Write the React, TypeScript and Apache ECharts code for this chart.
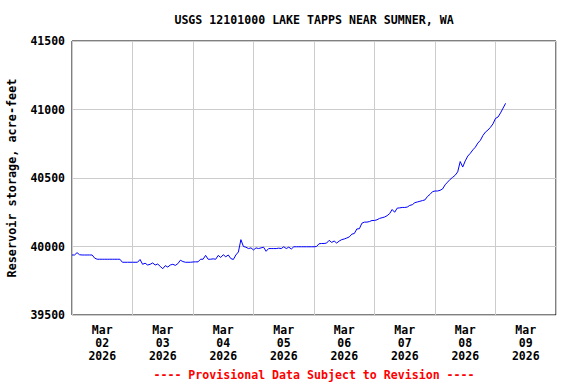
import React, { useEffect, useRef } from "react";
import * as echarts from "echarts";

const title = "USGS 12101000 LAKE TAPPS NEAR SUMNER, WA";
const yAxisTitle = "Reservoir storage, acre-feet";
const footer = "---- Provisional Data Subject to Revision ----";
const dayLabels = ["Mar\n02\n2026", "Mar\n03\n2026", "Mar\n04\n2026", "Mar\n05\n2026", "Mar\n06\n2026", "Mar\n07\n2026", "Mar\n08\n2026", "Mar\n09\n2026"];

// hourly storage starting Mar 02 2026 00:00
const storage = [
  39938, 39938, 39955, 39940, 39938, 39938, 39938, 39938, 39938, 39915, 39907, 39907, 39907, 39907, 39907, 39907, 39907, 39907, 39907, 39907, 39885, 39885, 39885, 39885,
  39885, 39885, 39885, 39905, 39870, 39878, 39865, 39870, 39880, 39865, 39872, 39855, 39838, 39860, 39850, 39865, 39870, 39862, 39875, 39900, 39890, 39885, 39885, 39885,
  39887, 39888, 39888, 39907, 39907, 39935, 39907, 39907, 39910, 39907, 39935, 39920, 39940, 39925, 39938, 39912, 39905, 39938, 39960, 40050, 40000, 39995, 39985, 39990,
  39975, 39990, 39985, 39990, 39995, 39965, 39985, 39985, 39985, 39985, 39988, 39985, 39998, 39985, 39995, 39982, 39998, 39998, 39998, 39998, 39998, 39998, 39998, 39998,
  39998, 40000, 40020, 40022, 40022, 40025, 40045, 40030, 40040, 40025, 40040, 40050, 40055, 40062, 40070, 40090, 40095, 40128, 40130, 40170, 40178, 40178, 40182, 40190,
  40190, 40195, 40205, 40210, 40215, 40225, 40240, 40270, 40250, 40280, 40282, 40285, 40285, 40288, 40300, 40305, 40320, 40325, 40330, 40335, 40340, 40365, 40380, 40400,
  40405, 40405, 40410, 40420, 40450, 40470, 40490, 40505, 40520, 40545, 40620, 40580, 40625, 40660, 40680, 40705, 40725, 40755, 40775, 40810, 40835, 40850, 40870, 40895,
  40935, 40945, 40975, 41010, 41045,
];

const FONT = "'DejaVu Sans Mono', monospace";

export default function App() {
  const ref = useRef<HTMLDivElement>(null);
  useEffect(() => {
    if (!ref.current) return;
    const chart = echarts.init(ref.current, null, { renderer: "svg" });
    const data = storage.map((v, i) => [i, v]);
    chart.setOption({
      animation: false,
      backgroundColor: "#fff",
      graphic: [
        {
          type: "text",
          x: 314,
          y: 20,
          style: {
            text: title,
            fill: "#000",
            font: `bold 11.6px ${FONT}`,
            textAlign: "center",
            textVerticalAlign: "middle",
          },
        },
        {
          type: "text",
          x: 314,
          y: 375,
          style: {
            text: footer,
            fill: "#ff0000",
            font: `bold 11.6px ${FONT}`,
            textAlign: "center",
            textVerticalAlign: "middle",
          },
        },
      ],
      grid: {
        left: 72,
        right: 20,
        top: 41,
        bottom: 69,
        show: true,
        borderColor: "#000",
        borderWidth: 1,
        backgroundColor: "transparent",
        containLabel: false,
        outerBoundsMode: "none",
      },
      xAxis: [
        {
          type: "value",
          min: 0,
          max: 192,
          interval: 24,
          axisLine: { show: false },
          axisTick: { show: false },
          axisLabel: { show: false },
          splitLine: { show: true, lineStyle: { color: "#cccccc", width: 1 } },
        },
        {
          type: "category",
          data: dayLabels,
          boundaryGap: true,
          position: "bottom",
          axisLine: { show: false },
          axisTick: { show: false },
          splitLine: { show: false },
          axisLabel: {
            interval: 0,
            margin: 8,
            fontFamily: FONT,
            fontSize: 11.5,
            fontWeight: "bold",
            color: "#000",
            lineHeight: 13,
          },
        },
      ],
      yAxis: {
        type: "value",
        min: 39500,
        max: 41500,
        interval: 500,
        name: yAxisTitle,
        nameLocation: "middle",
        nameGap: 54,
        nameRotate: 90,
        nameTextStyle: { fontFamily: FONT, fontSize: 11.8, fontWeight: "bold", color: "#000" },
        axisLine: { show: false },
        axisTick: { show: false },
        axisLabel: {
          fontFamily: FONT,
          fontSize: 11.5,
          fontWeight: "bold",
          color: "#000",
          margin: 7,
          formatter: (v: number) => String(v),
        },
        splitLine: { show: true, lineStyle: { color: "#cccccc", width: 1 } },
      },
      series: [
        {
          type: "line",
          xAxisIndex: 0,
          data,
          showSymbol: false,
          lineStyle: { color: "#0000ff", width: 1 },
        },
      ],
    });
    return () => chart.dispose();
  }, []);
  return <div ref={ref} style={{ width: 576, height: 384, position: "absolute", left: 0, top: 0 }} />;
}
